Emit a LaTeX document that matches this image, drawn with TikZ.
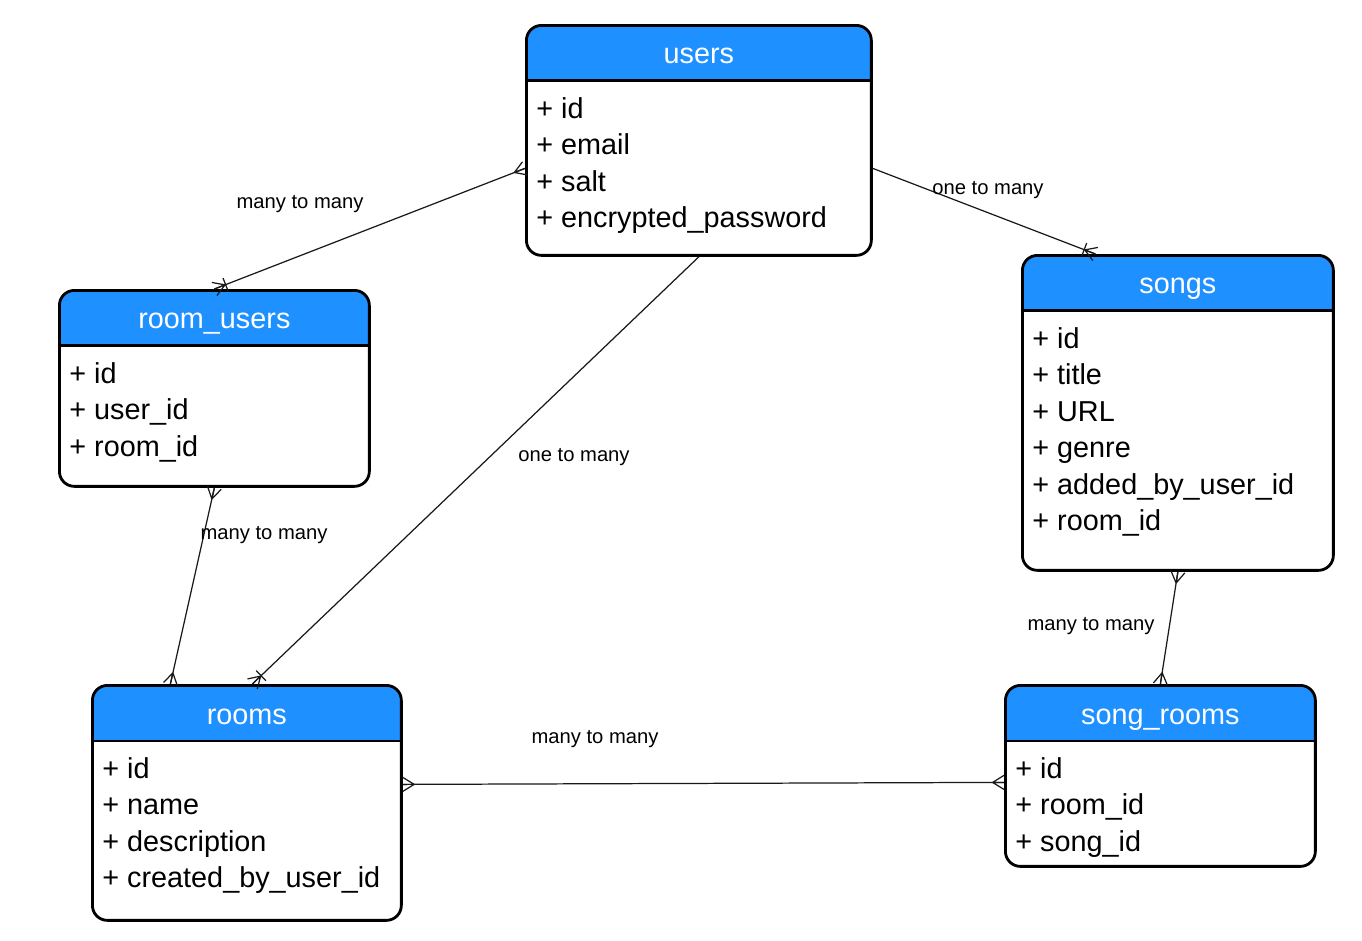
\documentclass[tikz,border=0pt]{standalone}
\usepackage{fontspec}
\setmainfont{Liberation Sans}
\usepackage{xcolor}
\usetikzlibrary{positioning, arrows.meta}

\definecolor{headblue}{RGB}{30,144,255}

% crow's foot tip: prongs open towards the entity border
\pgfdeclarearrow{
  name = Crow,
  parameters = {\the\pgfarrowlength,\the\pgfarrowwidth},
  setup code = {
    \pgfarrowssettipend{0pt}
    \pgfarrowssetlineend{0pt}
    \pgfarrowssetbackend{-\pgfarrowlength}
    \pgfarrowssetvisualbackend{-\pgfarrowlength}
    \pgfarrowshullpoint{0pt}{.5\pgfarrowwidth}
    \pgfarrowshullpoint{0pt}{-.5\pgfarrowwidth}
    \pgfarrowshullpoint{-\pgfarrowlength}{0pt}
    \pgfarrowssavethe\pgfarrowlength
    \pgfarrowssavethe\pgfarrowwidth
  },
  drawing code = {
    \pgfsetdash{}{0pt}
    \pgfpathmoveto{\pgfqpoint{-\pgfarrowlength}{0pt}}
    \pgfpathlineto{\pgfqpoint{0pt}{.5\pgfarrowwidth}}
    \pgfpathmoveto{\pgfqpoint{-\pgfarrowlength}{0pt}}
    \pgfpathlineto{\pgfqpoint{0pt}{-.5\pgfarrowwidth}}
    \pgfpathmoveto{\pgfqpoint{-\pgfarrowlength}{0pt}}
    \pgfpathlineto{\pgfqpoint{0pt}{0pt}}
    \pgfusepathqstroke
  },
  defaults = {length=6.5pt, width=8pt}
}

\begin{document}
\begin{tikzpicture}[
    x=0.02cm, y=-0.02cm,
    entity/.style={draw, line width=1.6pt, rounded corners=0.3cm, anchor=north west, inner sep=0pt,
        path picture={
            \fill[headblue, sharp corners] (path picture bounding box.north west) rectangle ([yshift=-1.11cm]path picture bounding box.north east);
            \draw[line width=1.6pt, sharp corners] ([yshift=-1.11cm]path picture bounding box.north west) -- ([yshift=-1.11cm]path picture bounding box.north east);
        }},
    title/.style={anchor=base, text=white, inner sep=0pt, font=\fontsize{16.4}{20.4}\selectfont},
    rows/.style={anchor=north west, align=left, inner sep=0pt, font=\fontsize{16.4}{20.8}\selectfont},
    rel/.style={line width=0.7pt, black!90},
    card/.style={font=\fontsize{11.5}{13}\selectfont, inner sep=0pt},
]

\useasboundingbox (0,0) rectangle (1362,940);

% --- Entities ---
\node[entity, minimum width=6.9cm, minimum height=4.6cm] (users) at (525,24) {};
\node[entity, minimum width=6.2cm, minimum height=3.92cm] (room-users) at (58,289) {};
\node[entity, minimum width=6.22cm, minimum height=6.3cm] (songs) at (1021,254) {};
\node[entity, minimum width=6.18cm, minimum height=4.7cm] (rooms) at (91,684) {};
\node[entity, minimum width=6.2cm, minimum height=3.62cm] (song-rooms) at (1004,684) {};

% --- Titles ---
\node[title] (users-title) at ([yshift=-0.8cm]users.north) {users};
\node[title] (room-users-title) at ([yshift=-0.8cm]room-users.north) {room\_users};
\node[title] (songs-title) at ([yshift=-0.8cm]songs.north) {songs};
\node[title] (rooms-title) at ([yshift=-0.8cm]rooms.north) {rooms};
\node[title] (song-rooms-title) at ([yshift=-0.8cm]song-rooms.north) {song\_rooms};

% --- Attributes ---
\node[rows] (users-rows) at ([xshift=0.22cm, yshift=-1.46cm]users.north west)
    {+ id\\+ email\\+ salt\\+ encrypted\_password};
\node[rows] (room-users-rows) at ([xshift=0.22cm, yshift=-1.46cm]room-users.north west)
    {+ id\\+ user\_id\\+ room\_id};
\node[rows] (songs-rows) at ([xshift=0.22cm, yshift=-1.46cm]songs.north west)
    {+ id\\+ title\\+ URL\\+ genre\\+ added\_by\_user\_id\\+ room\_id};
\node[rows] (rooms-rows) at ([xshift=0.22cm, yshift=-1.46cm]rooms.north west)
    {+ id\\+ name\\+ description\\+ created\_by\_user\_id};
\node[rows] (song-rooms-rows) at ([xshift=0.22cm, yshift=-1.46cm]song-rooms.north west)
    {+ id\\+ room\_id\\+ song\_id};

% --- Relations ---
\draw[rel, {Crow}-{Bar[width=8pt, sep=0pt]Crow}] ([yshift=-0.56cm]users.west) -- (room-users.north);
\draw[rel, -{Bar[width=8pt, sep=0pt]Crow}] ([yshift=-0.56cm]users.east) -- ([xshift=-1.65cm]songs.north);
\draw[rel, -{Bar[width=8pt, sep=0pt]Crow}] (users.south) -- ([xshift=0.11cm]rooms.north);
\draw[rel, {Crow}-{Crow}] (room-users.south) -- ([xshift=-1.53cm]rooms.north);
\draw[rel, {Crow}-{Crow}] ([yshift=0.37cm]rooms.east) -- ([yshift=-0.13cm]song-rooms.west);
\draw[rel, {Crow}-{Crow}] (songs.south) -- (song-rooms.north);

% --- Cardinality labels ---
\node[card] (lbl-users-roomusers) at (300,204) {many to many};
\node[card] (lbl-users-songs) at (988,190) {one to many};
\node[card] (lbl-users-rooms) at (574,457) {one to many};
\node[card] (lbl-roomusers-rooms) at (264,535) {many to many};
\node[card] (lbl-rooms-songrooms) at (595,739) {many to many};
\node[card] (lbl-songs-songrooms) at (1091,626) {many to many};

\end{tikzpicture}
\end{document}
